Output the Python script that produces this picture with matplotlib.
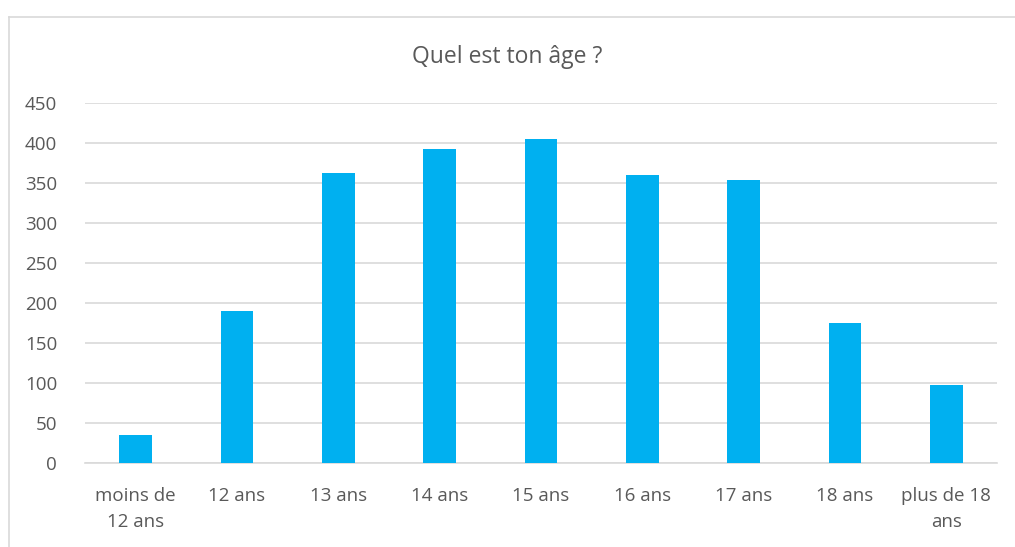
import matplotlib.pyplot as plt
from matplotlib.lines import Line2D

categories = ["moins de\n12 ans", "12 ans", "13 ans", "14 ans", "15 ans",
              "16 ans", "17 ans", "18 ans", "plus de 18\nans"]
counts = [35, 190, 362, 392, 405, 360, 354, 175, 98]
yticks = [0, 50, 100, 150, 200, 250, 300, 350, 400, 450]

plt.rcParams['font.family'] = ['Open Sans', 'DejaVu Sans']
text_color = "#595959"
grid_color = "#D9D9D9"

fig = plt.figure(figsize=(10.15, 5.47), dpi=100)
ax = fig.add_axes([85 / 1015, 84 / 547, 912 / 1015, 360 / 547])

x = range(len(categories))
ax.bar(x, counts, width=0.32, color="#00B0F0", zorder=3)

ax.set_xlim(-0.5, len(categories) - 0.5)
ax.set_ylim(0, 450)
ax.set_yticks(yticks)
ax.set_xticks(list(x))
ax.set_xticklabels(categories, linespacing=1.6)
ax.yaxis.grid(True, color=grid_color, linewidth=1.2, zorder=0)
ax.tick_params(axis="both", length=0, labelsize=13.5, colors=text_color)
ax.tick_params(axis="y", pad=20)
ax.tick_params(axis="x", pad=17)
for s in ["top", "right", "left"]:
    ax.spines[s].set_visible(False)
ax.spines["bottom"].set_color(grid_color)
ax.spines["bottom"].set_linewidth(1.2)

fig.text(0.5, 1 - 57 / 547, "Quel est ton âge ?", ha="center", va="center",
         fontsize=16.5, color=text_color)

# chart frame (left and top edges visible)
fig.add_artist(Line2D([9 / 1015, 9 / 1015], [0, 1 - 17 / 547], color=grid_color,
                      linewidth=1.2, transform=fig.transFigure))
fig.add_artist(Line2D([9 / 1015, 1], [1 - 17 / 547, 1 - 17 / 547], color=grid_color,
                      linewidth=1.2, transform=fig.transFigure))

fig.savefig("out.png", dpi=100)
